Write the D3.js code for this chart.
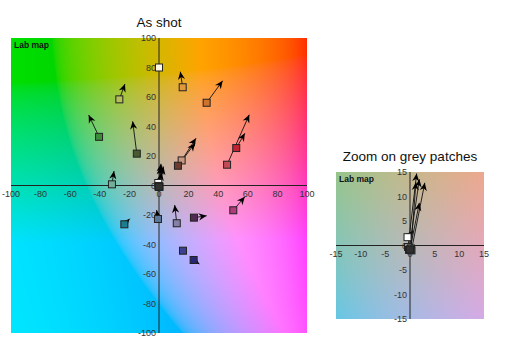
<!DOCTYPE html>
<html>
<head>
<meta charset="utf-8">
<script src="https://cdn.jsdelivr.net/npm/d3@7"></script>
<style>
  body { margin: 0; background: #fff; }
  svg { display: block; font-family: "Liberation Sans", Arial, sans-serif; }
</style>
</head>
<body>
<div id="chart"></div>
<script>
// colour patches: as shot (a, b) and reference (a, b)
var shotA = [0, 16, 32.2, -26.8, -40.5, -15, 15.3, 12.8, 52.2, 46, -31.8, 50.2, -23.4, -0.7, 12, 23.6, 16.2, 23.4];
var shotB = [80, 66.6, 56.1, 58.4, 33, 21.6, 17, 13.4, 25.4, 14.1, 0.8, -16.8, -26.3, -22.7, -25.6, -21.8, -44.2, -50.5];
var refA  = [0, 14.4, 43, -23, -47.5, -17.8, 25, 24.3, 58, 61, -30.4, 58, -19.8, -1.6, 10.6, 32.2, 16.2, 27.3];
var refB  = [80, 77.2, 71, 68.8, 47.8, 43.5, 32, 28.6, 35.4, 48, 9.8, -7.6, -22.5, -16.6, -13.2, -20.5, -44.2, -53.2];
var patchFill = ["#fff8e0", "#e09a3c", "#d0742c", "#b4be5a", "#3c8a3c", "#4a5a30", "#c8967e", "#6c3c30",
                 "#be2432", "#c44a56", "#70b09a", "#b03c7c", "#1a7e90", "#5c7898", "#8480a8", "#502c52", "#3c4090", "#282878"];

// grey patches
var greyA    = [-0.5, -0.4, 0.2, -0.2, 0.3, 0];
var greyB    = [1.7, -0.3, -0.6, -0.9, -1.0, -0.8];
var greyRefA = [0.7, 1.35, 1.2, 1.9, 3.0, 1.9];
var greyRefB = [3.0, 14.7, 12.9, 13.5, 12.8, 8.7];
var greyFill = ["#ffffff", "#9a9a9a", "#707070", "#555555", "#444444", "#303030"];

var mainTicks = d3.range(-100, 101, 20);
var zoomTicks = d3.range(-15, 16, 5);

var svg = d3.select("#chart").append("svg")
  .attr("width", 530)
  .attr("height", 346);

svg.append("defs").append("marker")
  .attr("id", "arrow")
  .attr("markerUnits", "userSpaceOnUse")
  .attr("viewBox", "-9 -5 10 10")
  .attr("refX", 0)
  .attr("refY", 0)
  .attr("markerWidth", 10)
  .attr("markerHeight", 10)
  .attr("orient", "auto")
  .append("path")
  .attr("d", "M0,0 L-8,-3.6 L-5.5,0 L-8,3.6 Z")
  .attr("fill", "#000");

function labImage(w, h, range, gain) {
  var canvas = document.createElement("canvas");
  canvas.width = w; canvas.height = h;
  var ctx = canvas.getContext("2d");
  var img = ctx.createImageData(w, h);
  for (var j = 0; j < h; j++) {
    for (var i = 0; i < w; i++) {
      var a = (-range + 2 * range * (i + 0.5) / w) * gain;
      var b = (range - 2 * range * (j + 0.5) / h) * gain;
      var c = d3.lab(75, a, b).rgb();
      var k = (j * w + i) * 4;
      img.data[k] = c.r; img.data[k + 1] = c.g; img.data[k + 2] = c.b; img.data[k + 3] = 255;
    }
  }
  ctx.putImageData(img, 0, 0);
  return canvas.toDataURL();
}

function drawChart(opt) {
  var x = d3.scaleLinear().domain([-opt.range, opt.range]).range([opt.left, opt.right]);
  var y = d3.scaleLinear().domain([-opt.range, opt.range]).range([opt.bottom, opt.top]);
  var g = svg.append("g");

  g.append("image")
    .attr("x", opt.left).attr("y", opt.top)
    .attr("width", opt.right - opt.left).attr("height", opt.bottom - opt.top)
    .attr("preserveAspectRatio", "none")
    .attr("href", labImage(Math.round(opt.right - opt.left), Math.round(opt.bottom - opt.top), opt.range, opt.gain));

  g.append("text")
    .attr("x", (opt.left + opt.right) / 2)
    .attr("y", opt.top - 11)
    .attr("text-anchor", "middle")
    .style("font-size", "13.5px")
    .attr("fill", "#111")
    .text(opt.title);

  g.append("text")
    .attr("x", opt.left + 3)
    .attr("y", opt.top + 10)
    .style("font-size", "8.5px")
    .style("font-weight", "bold")
    .attr("fill", "#111")
    .text("Lab map");

  // axes through the origin
  g.append("line")
    .attr("x1", opt.left).attr("x2", opt.right)
    .attr("y1", y(0)).attr("y2", y(0))
    .attr("stroke", "#222").attr("stroke-width", 1);
  g.append("line")
    .attr("x1", x(0)).attr("x2", x(0))
    .attr("y1", opt.top).attr("y2", opt.bottom)
    .attr("stroke", "#222").attr("stroke-width", 1);

  g.selectAll(".xt").data(opt.ticks).enter().append("text")
    .attr("x", d => x(d))
    .attr("y", y(0) + 11)
    .attr("text-anchor", "middle")
    .style("font-size", "9px")
    .attr("fill", "#333")
    .text(d => d);

  g.selectAll(".yt").data(opt.ticks).enter().append("text")
    .attr("x", x(0) - 3)
    .attr("y", d => y(d) + 3)
    .attr("text-anchor", "end")
    .style("font-size", "9px")
    .attr("fill", "#333")
    .text(d => d);

  var idx = d3.range(opt.a.length);
  var s = opt.size;

  g.selectAll(".arr").data(idx.filter(i => Math.hypot(x(opt.ra[i]) - x(opt.a[i]), y(opt.rb[i]) - y(opt.b[i])) > 3))
    .enter().append("line")
    .attr("x1", i => x(opt.a[i])).attr("y1", i => y(opt.b[i]))
    .attr("x2", i => x(opt.ra[i])).attr("y2", i => y(opt.rb[i]))
    .attr("stroke", "#111").attr("stroke-width", 0.9)
    .attr("marker-end", "url(#arrow)");

  g.selectAll(".sq").data(idx).enter().append("rect")
    .attr("x", i => x(opt.a[i]) - s / 2)
    .attr("y", i => y(opt.b[i]) - s / 2)
    .attr("width", s).attr("height", s)
    .attr("fill", i => opt.fill[i])
    .attr("stroke", "#222").attr("stroke-width", 1);
}

drawChart({
  title: "As shot", range: 100, gain: 1, ticks: mainTicks,
  left: 11, right: 307, top: 38, bottom: 333, size: 7,
  a: shotA.concat(greyA), b: shotB.concat(greyB),
  ra: refA.concat(greyRefA), rb: refB.concat(greyRefB),
  fill: patchFill.concat(greyFill)
});

drawChart({
  title: "Zoom on grey patches", range: 15, gain: 1.6, ticks: zoomTicks,
  left: 336, right: 484, top: 172, bottom: 319, size: 7,
  a: greyA, b: greyB, ra: greyRefA, rb: greyRefB, fill: greyFill
});
</script>
</body>
</html>
